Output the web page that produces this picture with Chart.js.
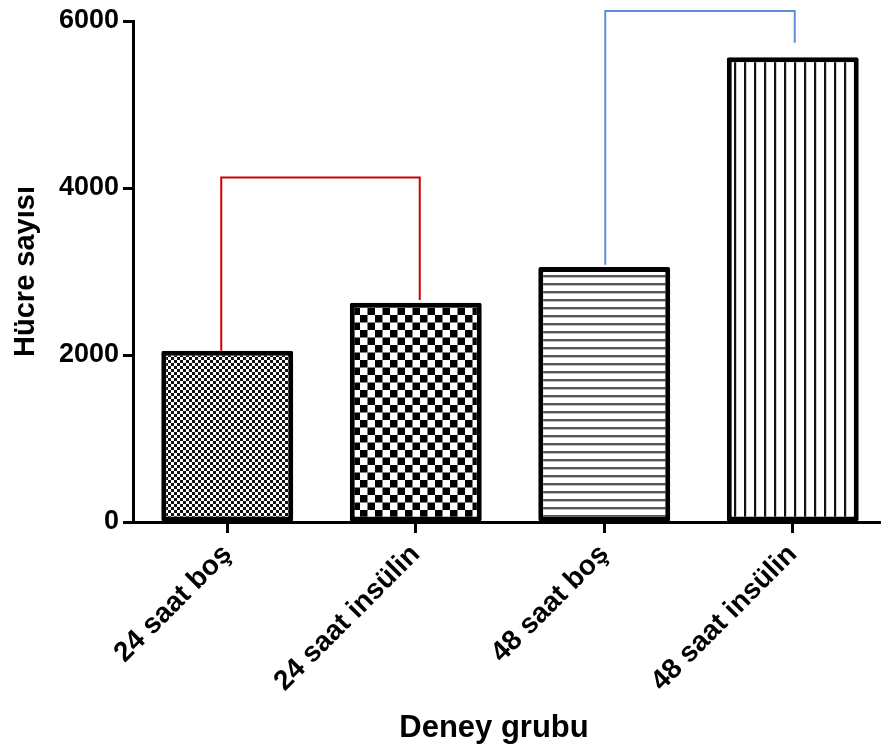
<!DOCTYPE html>
<html>
<head>
<meta charset="utf-8">
<script src="https://cdn.jsdelivr.net/npm/chart.js@4.4.1/dist/chart.umd.min.js"></script>
<style>
  html, body { margin: 0; padding: 0; background: #fff; overflow: hidden; width: 881px; height: 749px; }
  canvas { display: block; }
</style>
</head>
<body>
<canvas id="chart" width="887" height="749"></canvas>
<script>
// Experimental groups and cell counts
const groups = ['24 saat boş', '24 saat insülin', '48 saat boş', '48 saat insülin'];
const cellCounts = [2050, 2625, 3055, 5565];
const yTickValues = [0, 2000, 4000, 6000];

// Comparison brackets: which groups they join, and [left foot, top, right foot] heights
const bracketPairs = [[0, 1], [2, 3]];
const bracketLevels = [[2050, 4125, 2660], [3080, 6120, 5740]];

const xTitle = 'Deney grubu';
const yTitle = 'Hücre sayısı';

const FONT = 'Liberation Sans, Arial, Helvetica, sans-serif';

// Fill patterns for the bars
function makePattern(kind) {
  const c = document.createElement('canvas');
  const g = c.getContext('2d');
  if (kind === 'fineCheck') {
    c.width = c.height = 6;
    g.fillStyle = '#fff'; g.fillRect(0, 0, 6, 6);
    g.fillStyle = '#111';
    g.fillRect(0, 0, 3, 3); g.fillRect(3, 3, 3, 3);
  } else if (kind === 'coarseCheck') {
    c.width = c.height = 15;
    g.fillStyle = '#fff'; g.fillRect(0, 0, 15, 15);
    g.fillStyle = '#000';
    g.fillRect(0, 0, 7.5, 7.5); g.fillRect(7.5, 7.5, 7.5, 7.5);
  } else if (kind === 'hLines') {
    c.width = 4; c.height = 8;
    g.fillStyle = '#fff'; g.fillRect(0, 0, 4, 8);
    g.fillStyle = '#555'; g.fillRect(0, 3, 4, 2.4);
  } else {
    c.width = 10; c.height = 4;
    g.fillStyle = '#fff'; g.fillRect(0, 0, 10, 4);
    g.fillStyle = '#111'; g.fillRect(4, 0, 2.2, 4);
  }
  return g.createPattern(c, 'repeat');
}

const fills = [
  makePattern('fineCheck'),
  makePattern('coarseCheck'),
  makePattern('hLines'),
  makePattern('vLines')
];

// Draws the significance brackets between group pairs
const bracketPlugin = {
  id: 'brackets',
  afterDatasetsDraw(chart) {
    const { ctx, scales: { x, y } } = chart;
    const colors = ['#cc0000', '#5b8fdc'];
    const nudge = [[-6, 4], [1, 2]];
    bracketPairs.forEach((pair, i) => {
      const xa = x.getPixelForValue(pair[0]) + nudge[i][0];
      const xb = x.getPixelForValue(pair[1]) + nudge[i][1];
      const [l, t, r] = bracketLevels[i];
      ctx.save();
      ctx.strokeStyle = colors[i];
      ctx.lineWidth = 2;
      ctx.beginPath();
      ctx.moveTo(xa, y.getPixelForValue(l));
      ctx.lineTo(xa, y.getPixelForValue(t));
      ctx.lineTo(xb, y.getPixelForValue(t));
      ctx.lineTo(xb, y.getPixelForValue(r));
      ctx.stroke();
      ctx.restore();
    });
  }
};

// X-axis title, centred under the visible part of the axis
const xTitlePlugin = {
  id: 'xTitle',
  afterDraw(chart) {
    const { ctx, scales: { x } } = chart;
    ctx.save();
    ctx.font = 'bold 31px ' + FONT;
    ctx.fillStyle = '#000';
    ctx.textAlign = 'center';
    ctx.textBaseline = 'middle';
    ctx.fillText(xTitle, (x.left + 881) / 2 - 13, 728);
    ctx.restore();
  }
};

new Chart(document.getElementById('chart'), {
  type: 'bar',
  data: {
    labels: groups,
    datasets: [{
      data: cellCounts,
      backgroundColor: fills,
      borderColor: '#000',
      borderWidth: 5,
      borderSkipped: false,
      borderRadius: 2,
      categoryPercentage: 1,
      barPercentage: 0.70
    }]
  },
  options: {
    responsive: false,
    animation: false,
    devicePixelRatio: 1,
    layout: { padding: { top: 21, right: 0, bottom: 0, left: 0 } },
    plugins: { legend: { display: false }, tooltip: { enabled: false } },
    scales: {
      x: {
        offset: true,
        grid: { display: true, drawOnChartArea: false, drawTicks: true, tickLength: 11, tickWidth: 3, tickColor: '#000', offset: false },
        border: { display: true, color: '#000', width: 3 },
        ticks: { color: '#000', font: { family: FONT, weight: 'bold', size: 28 }, minRotation: 45, maxRotation: 45, padding: 5 },
        title: { display: false },
        afterFit(s) { s.height = 227; }
      },
      y: {
        min: 0,
        max: 6000,
        afterBuildTicks(s) { s.ticks = yTickValues.map(v => ({ value: v })); },
        grid: { display: true, drawOnChartArea: false, drawTicks: true, tickLength: 10, tickWidth: 3, tickColor: '#000' },
        border: { display: true, color: '#000', width: 3 },
        ticks: { color: '#000', font: { family: FONT, weight: 'bold', size: 27 }, padding: 4, callback: v => String(v) },
        title: { display: true, text: yTitle, color: '#000', font: { family: FONT, weight: 'bold', size: 29 }, padding: { top: 9, bottom: 0 } },
        afterFit(s) { s.width = 133; }
      }
    }
  },
  plugins: [bracketPlugin, xTitlePlugin]
});
</script>
</body>
</html>
